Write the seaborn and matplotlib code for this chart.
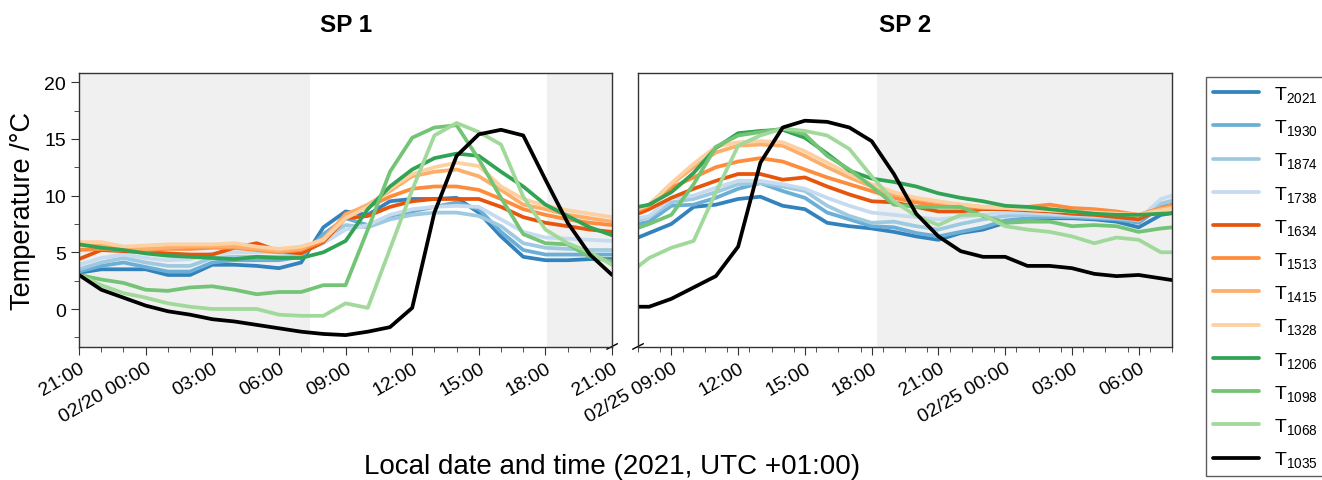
import pandas as pd
import seaborn as sns
import matplotlib.pyplot as plt

# sensor names (legend order) and their label text
sensors = ['2021', '1930', '1874', '1738', '1634', '1513', '1415', '1328',
           '1206', '1098', '1068', '1035']

# SP 1: hourly, 2021-02-19 21:00 -> 2021-02-20 21:00
sp1_start = '2021-02-19 21:00'
sp1 = {
    '2021': [3.2, 3.5, 3.5, 3.5, 3.0, 3.0, 3.9, 3.9, 3.8, 3.6, 4.1, 7.2, 8.6,
             8.3, 9.5, 9.7, 9.7, 9.8, 8.5, 6.4, 4.6, 4.3, 4.3, 4.4, 4.4],
    '1930': [3.3, 3.8, 4.1, 3.7, 3.3, 3.3, 4.1, 4.3, 4.3, 4.3, 4.6, 6.6, 8.0,
             7.4, 8.2, 8.6, 9.0, 9.4, 8.8, 6.8, 5.2, 4.8, 4.8, 4.8, 4.8],
    '1874': [3.5, 4.1, 4.5, 4.1, 3.8, 3.8, 4.5, 4.6, 4.6, 4.6, 4.8, 6.2, 7.4,
             7.2, 7.9, 8.3, 8.5, 8.5, 8.2, 7.3, 5.8, 5.4, 5.3, 5.2, 5.2],
    '1738': [3.9, 4.5, 4.8, 4.5, 4.3, 4.4, 4.9, 5.0, 5.0, 5.0, 5.1, 5.8, 7.0,
             7.4, 8.3, 8.8, 9.0, 9.1, 9.0, 7.9, 6.8, 6.3, 6.2, 6.1, 6.0],
    '1634': [4.4, 5.2, 5.1, 5.0, 4.9, 4.8, 4.8, 5.4, 5.8, 5.1, 4.9, 5.9, 8.0,
             8.2, 9.0, 9.5, 9.7, 9.7, 9.7, 9.0, 8.1, 7.6, 7.3, 7.0, 6.8],
    '1513': [5.2, 5.3, 5.2, 5.2, 5.3, 5.3, 5.4, 5.4, 5.2, 5.0, 5.2, 6.0, 8.4,
             9.0, 9.9, 10.6, 10.8, 10.8, 10.5, 9.7, 8.8, 8.3, 7.9, 7.6, 7.4],
    '1415': [5.6, 5.6, 5.4, 5.3, 5.4, 5.5, 5.5, 5.5, 5.3, 5.1, 5.3, 6.2, 8.3,
             9.2, 10.4, 11.7, 12.1, 12.3, 11.7, 10.5, 9.2, 8.8, 8.3, 8.0, 7.7],
    '1328': [5.9, 5.9, 5.5, 5.6, 5.7, 5.7, 5.7, 5.8, 5.5, 5.3, 5.5, 6.1, 8.0,
             9.0, 10.6, 11.9, 12.5, 12.9, 12.6, 10.8, 9.7, 9.1, 8.7, 8.4, 8.1],
    '1206': [5.7, 5.4, 5.2, 4.9, 4.7, 4.6, 4.5, 4.4, 4.6, 4.5, 4.5, 5.0, 6.0,
             8.8, 10.8, 12.3, 13.3, 13.7, 13.5, 12.1, 10.8, 9.2, 8.2, 7.2, 6.5],
    '1098': [3.0, 2.6, 2.3, 1.7, 1.6, 1.9, 2.0, 1.7, 1.3, 1.5, 1.5, 2.1, 2.1,
             7.0, 12.1, 15.1, 16.0, 16.2, 13.2, 9.8, 6.6, 5.8, 5.7, 4.6, 4.2],
    '1068': [3.0, 2.1, 1.4, 1.0, 0.5, 0.2, 0.0, 0.0, 0.0, -0.5, -0.6, -0.6, 0.5,
             0.1, 5.3, 10.5, 15.3, 16.4, 15.6, 14.5, 9.9, 7.0, 5.8, 5.0, 3.9],
    '1035': [3.0, 1.7, 1.0, 0.3, -0.2, -0.5, -0.9, -1.1, -1.4, -1.7, -2.0, -2.2,
             -2.3, -2.0, -1.6, 0.1, 8.5, 13.5, 15.4, 15.8, 15.3, 11.4, 7.6, 4.8, 3.0],
}

# SP 2: hourly, 2021-02-24 07:00 -> 2021-02-25 08:00
sp2_start = '2021-02-24 07:00'
sp2 = {
    '2021': [5.9, 6.7, 7.5, 9.0, 9.2, 9.7, 9.9, 9.1, 8.8, 7.6, 7.3, 7.1, 6.8,
             6.4, 6.1, 6.7, 7.0, 7.6, 7.9, 8.0, 8.0, 7.9, 7.7, 7.2, 8.3, 8.6],
    '1930': [7.3, 7.7, 9.1, 9.2, 9.8, 10.6, 11.1, 10.4, 9.8, 8.5, 7.9, 7.3, 7.2,
             6.7, 6.4, 6.8, 7.2, 7.8, 8.0, 8.1, 8.1, 8.0, 7.9, 7.6, 9.0, 9.4],
    '1874': [7.6, 8.1, 9.4, 9.7, 10.3, 11.0, 11.1, 10.8, 10.4, 9.1, 8.2, 7.6, 7.7,
             7.3, 7.0, 7.5, 7.9, 8.2, 8.3, 8.3, 8.2, 8.1, 8.0, 7.8, 9.3, 9.8],
    '1738': [7.8, 8.2, 9.8, 10.0, 10.7, 11.3, 11.3, 11.0, 10.6, 9.8, 9.1, 8.5, 8.3,
             8.1, 7.9, 8.1, 8.3, 8.5, 8.5, 8.4, 8.3, 8.2, 8.1, 7.9, 9.7, 10.3],
    '1634': [8.0, 8.8, 9.8, 10.6, 11.3, 11.9, 11.9, 11.4, 11.6, 10.8, 10.1, 9.5, 9.4,
             9.0, 8.6, 8.6, 8.8, 8.8, 8.7, 8.6, 8.4, 8.3, 8.1, 7.9, 8.8, 9.2],
    '1513': [8.2, 9.1, 10.7, 11.6, 12.5, 13.0, 13.3, 13.0, 12.3, 11.6, 11.0, 10.4, 9.8,
             9.4, 9.1, 9.0, 8.9, 8.9, 9.0, 9.2, 8.9, 8.8, 8.6, 8.3, 8.9, 9.4],
    '1415': [8.4, 9.2, 11.0, 12.5, 13.8, 14.4, 14.5, 14.4, 13.5, 12.5, 11.6, 10.8, 10.1,
             9.7, 9.4, 9.2, 9.0, 8.9, 8.8, 8.7, 8.6, 8.5, 8.4, 8.3, 8.8, 9.2],
    '1328': [8.5, 9.2, 11.1, 12.8, 14.3, 14.7, 14.8, 14.7, 13.9, 12.9, 11.9, 11.0, 10.3,
             9.8, 9.5, 9.2, 9.0, 8.9, 8.8, 8.7, 8.6, 8.5, 8.4, 8.3, 8.7, 9.0],
    '1206': [8.8, 9.2, 10.3, 12.0, 14.2, 15.5, 15.7, 15.8, 15.1, 13.7, 12.2, 11.5, 11.2,
             10.8, 10.2, 9.8, 9.5, 9.1, 9.0, 8.8, 8.6, 8.4, 8.3, 8.3, 8.4, 8.5],
    '1098': [6.8, 7.5, 8.3, 11.0, 14.3, 15.3, 15.6, 15.9, 15.4, 13.5, 12.3, 10.8, 9.2,
             9.0, 9.0, 9.0, 8.2, 7.6, 7.7, 7.7, 7.3, 7.4, 7.3, 6.8, 7.1, 7.3],
    '1068': [3.0, 4.5, 5.4, 6.0, 10.3, 14.4, 15.3, 15.9, 15.7, 15.3, 14.1, 11.7, 9.5,
             8.2, 7.4, 8.3, 8.3, 7.3, 7.0, 6.8, 6.4, 5.8, 6.3, 6.1, 5.0, 5.0],
    '1035': [0.2, 0.2, 0.9, 1.9, 2.9, 5.5, 12.9, 16.0, 16.6, 16.5, 16.0, 14.8, 11.9,
             8.4, 6.4, 5.1, 4.6, 4.6, 3.8, 3.8, 3.6, 3.1, 2.9, 3.0, 2.7, 2.4],
}

# axis ranges, night shading and tick labels
sp1_xlim = ('2021-02-19 21:00', '2021-02-20 21:00')
sp1_night = [('2021-02-19 21:00', '2021-02-20 07:24'), ('2021-02-20 18:05', '2021-02-20 21:00')]
sp1_ticks = ['2021-02-19 21:00', '2021-02-20 00:00', '2021-02-20 03:00', '2021-02-20 06:00',
             '2021-02-20 09:00', '2021-02-20 12:00', '2021-02-20 15:00', '2021-02-20 18:00',
             '2021-02-20 21:00']
sp1_ticklabels = ['21:00', '02/20 00:00', '03:00', '06:00', '09:00', '12:00', '15:00',
                  '18:00', '21:00']

sp2_xlim = ('2021-02-24 07:30', '2021-02-25 07:30')
sp2_night = [('2021-02-24 18:14', '2021-02-25 07:30')]
sp2_ticks = ['2021-02-24 09:00', '2021-02-24 12:00', '2021-02-24 15:00', '2021-02-24 18:00',
             '2021-02-24 21:00', '2021-02-25 00:00', '2021-02-25 03:00', '2021-02-25 06:00']
sp2_ticklabels = ['02/25 09:00', '12:00', '15:00', '18:00', '21:00', '02/25 00:00',
                  '03:00', '06:00']

yticks = [0, 5, 10, 15, 20]
ylim = (-3.35, 20.8)


def long_table(data, start):
    n = len(data[sensors[0]])
    times = pd.date_range(start, periods=n, freq='h')
    rows = []
    for s in sensors:
        for t, v in zip(times, data[s]):
            rows.append({'time': t, 'temp': v, 'sensor': s})
    return pd.DataFrame(rows)


sns.set_style('ticks')
plt.rcParams['font.family'] = ['Liberation Sans', 'DejaVu Sans']
plt.rcParams['mathtext.fontset'] = 'custom'
plt.rcParams['mathtext.rm'] = 'Liberation Sans'
plt.rcParams['mathtext.it'] = 'Liberation Sans:italic'
for key in ['text.color', 'axes.labelcolor', 'xtick.color', 'ytick.color']:
    plt.rcParams[key] = 'black'

cmap = plt.get_cmap('tab20c')
palette = {s: cmap(i) for i, s in enumerate(sensors[:-1])}
palette['1035'] = 'black'

fig = plt.figure(figsize=(13.22, 4.81), dpi=100)
ax1 = fig.add_axes([0.0598, 0.2765, 0.4032, 0.5695])
ax2 = fig.add_axes([0.4826, 0.2765, 0.4040, 0.5695])

panels = [(ax1, sp1, sp1_start, sp1_xlim, sp1_night, sp1_ticks, sp1_ticklabels, 'SP 1'),
          (ax2, sp2, sp2_start, sp2_xlim, sp2_night, sp2_ticks, sp2_ticklabels, 'SP 2')]

for ax, data, start, xlim, night, ticks, ticklabels, title in panels:
    df = long_table(data, start)
    for a, b in night:
        ax.axvspan(pd.Timestamp(a), pd.Timestamp(b), color='#f0f0f0', lw=0, zorder=0)
    sns.lineplot(data=df, x='time', y='temp', hue='sensor', hue_order=sensors,
                 palette=palette, linewidth=2.7, ax=ax, legend=False)
    ax.set_xlim(pd.Timestamp(xlim[0]), pd.Timestamp(xlim[1]))
    ax.set_ylim(*ylim)
    tick_pos = [pd.Timestamp(t) for t in ticks]
    ax.set_xticks(tick_pos)
    ax.set_xticklabels(ticklabels, rotation=30, ha='right', rotation_mode='anchor', fontsize=14)
    minor = pd.date_range(xlim[0], xlim[1], freq='h')
    ax.set_xticks(minor, minor=True)
    ax.set_xlabel('')
    ax.set_title(title, fontsize=17.5, fontweight='bold', pad=30)
    for sp in ax.spines.values():
        sp.set_color('#333333')
        sp.set_linewidth(1.0)
    ax.tick_params(axis='x', which='major', length=6, color='#333333', pad=3)
    ax.tick_params(axis='x', which='minor', length=3.5, color='#333333')

ax1.set_yticks(yticks)
ax1.set_yticks([-2.5, 2.5, 7.5, 12.5, 17.5], minor=True)
ax1.tick_params(axis='y', which='major', labelsize=14, length=6, color='#333333')
ax1.tick_params(axis='y', which='minor', length=3.5, color='#333333')
ax1.set_ylabel('Temperature /°C', fontsize=19.5, labelpad=6)

ax2.set_yticks([])
ax2.set_ylabel('')

# broken-axis marks
mark = dict(color='black', lw=1.0, clip_on=False)
ax1.plot([0.99, 1.01], [-0.008, 0.012], transform=ax1.transAxes, **mark)
ax2.plot([-0.01, 0.01], [-0.008, 0.012], transform=ax2.transAxes, **mark)

handles = [plt.Line2D([], [], color=palette[s], lw=2.7) for s in sensors]
labels = [r'T$_{' + s + '}$' for s in sensors]
fig.legend(handles, labels, loc='upper left', bbox_to_anchor=(0.9125, 0.838),
           borderaxespad=0, fontsize=14, frameon=True, fancybox=False,
           edgecolor='#333333', handlelength=2.37, labelspacing=0.68,
           borderpad=0.36, handletextpad=0.77)

fig.text(0.463, 0.03, 'Local date and time (2021, UTC +01:00)', ha='center', va='center',
         fontsize=20)

fig.savefig('out.png', dpi=100)
